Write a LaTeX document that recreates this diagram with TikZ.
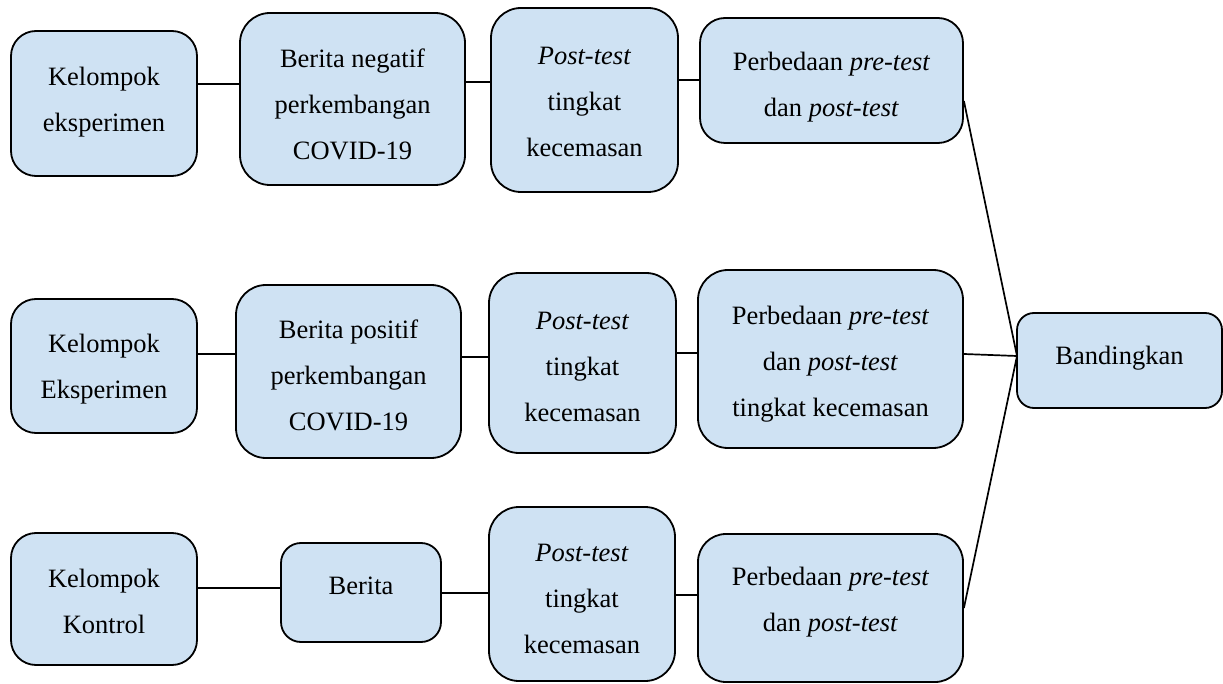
\documentclass[tikz,border=0pt]{standalone}
\usepackage{fontspec}
\setmainfont{Liberation Serif}
\definecolor{boxfill}{RGB}{207,226,243}
\newcommand{\tb}[2]{\raisebox{#1}[\height][\depth]{\begin{tabular}{@{}c@{}}#2\end{tabular}}}
\tikzset{
  box/.style={draw=black, fill=boxfill, line width=1.8pt, align=center, inner sep=0pt,
    font=\fontsize{26.5}{46}\selectfont},
  conn/.style={draw=black, line width=1.7pt}
}
\begin{document}
\begin{tikzpicture}[x=1pt,y=-1pt]
\useasboundingbox (0,0) rectangle (1223,684);
% row 1
\node[box, rounded corners=25pt, minimum width=186pt, minimum height=145pt] (A1) at (104,103.5) {\tb{4pt}{Kelompok\\eksperimen}};
\node[box, rounded corners=30pt, minimum width=225pt, minimum height=172pt] (B1) at (352.5,99) {\tb{-5pt}{Berita negatif\\perkembangan\\COVID-19}};
\node[box, rounded corners=30pt, minimum width=187pt, minimum height=184pt] (C1) at (584.5,100) {\tb{-1.5pt}{\textit{Post-test}\\tingkat\\kecemasan}};
\node[box, rounded corners=25pt, minimum width=263pt, minimum height=125pt] (D1) at (831.5,80.5) {\tb{-3.5pt}{Perbedaan \textit{pre-test}\\dan \textit{post-test}}};
% row 2
\node[box, rounded corners=25pt, minimum width=186pt, minimum height=134pt] (A2) at (104,366) {\tb{0pt}{Kelompok\\Eksperimen}};
\node[box, rounded corners=30pt, minimum width=225pt, minimum height=173pt] (B2) at (348.5,371.5) {\tb{-4pt}{Berita positif\\perkembangan\\COVID-19}};
\node[box, rounded corners=30pt, minimum width=187pt, minimum height=180pt] (C2) at (582.5,363) {\tb{-3pt}{\textit{Post-test}\\tingkat\\kecemasan}};
\node[box, rounded corners=30pt, minimum width=265pt, minimum height=178pt] (D2) at (830.5,359) {\tb{-2pt}{Perbedaan \textit{pre-test}\\dan \textit{post-test}\\tingkat kecemasan}};
\node[box, rounded corners=17pt, minimum width=205pt, minimum height=95pt] (E) at (1119.5,360.5) {\tb{5pt}{Bandingkan}};
% row 3
\node[box, rounded corners=25pt, minimum width=186pt, minimum height=132pt] (A3) at (104,599) {\tb{-2pt}{Kelompok\\Kontrol}};
\node[box, rounded corners=20pt, minimum width=160pt, minimum height=99pt] (B3) at (361,592.5) {\tb{7pt}{Berita}};
\node[box, rounded corners=30pt, minimum width=186pt, minimum height=174pt] (C3) at (582,594) {\tb{-4.5pt}{\textit{Post-test}\\tingkat\\kecemasan}};
\node[box, rounded corners=28pt, minimum width=265pt, minimum height=148pt] (D3) at (830.5,608) {\tb{9pt}{Perbedaan \textit{pre-test}\\dan \textit{post-test}}};
% connector levels
\coordinate (ya) at (0,84);
\coordinate (yb) at (0,82);
\coordinate (yc) at (0,80);
\coordinate (yd) at (0,101);
\coordinate (ye) at (0,354);
\coordinate (yf) at (0,357);
\coordinate (yg) at (0,353);
\coordinate (yh) at (0,588);
\coordinate (yi) at (0,593);
\coordinate (yj) at (0,595);
\coordinate (yk) at (0,608);
\coordinate (m) at (1017,356);
% row 1 connectors
\draw[conn] (A1.east |- ya) -- (B1.west |- ya);
\draw[conn] (B1.east |- yb) -- (C1.west |- yb);
\draw[conn] (C1.east |- yc) -- (D1.west |- yc);
% row 2 connectors
\draw[conn] (A2.east |- ye) -- (B2.west |- ye);
\draw[conn] (B2.east |- yf) -- (C2.west |- yf);
\draw[conn] (C2.east |- yg) -- (D2.west |- yg);
% row 3 connectors
\draw[conn] (A3.east |- yh) -- (B3.west |- yh);
\draw[conn] (B3.east |- yi) -- (C3.west |- yi);
\draw[conn] (C3.east |- yj) -- (D3.west |- yj);
% to Bandingkan
\draw[conn] (D1.east |- yd) -- (m);
\draw[conn] (D2.east |- ye) -- (m);
\draw[conn] (D3.east |- yk) -- (m);
\end{tikzpicture}
\end{document}
